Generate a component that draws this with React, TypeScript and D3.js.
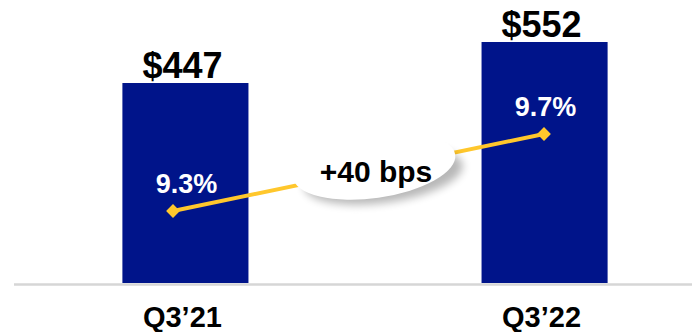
import React from "react";
import * as d3 from "d3";

const categories = ["Q3\u201921", "Q3\u201922"];
const revenue = [447, 552];
const revenueLabels = ["$447", "$552"];
const margin = [9.3, 9.7];
const marginLabels = ["9.3%", "9.7%"];
const changeLabel = "+40 bps";

const W = 692;
const H = 332;
const FONT = "'Liberation Sans', Arial, sans-serif";
const NAVY = "#00148A";
const GOLD = "#FFC72C";

export default function App() {
  const x = d3
    .scaleBand<string>()
    .domain(categories)
    .range([38, 692])
    .paddingInner(0.649)
    .paddingOuter(0.235);
  const y = d3.scaleLinear().domain([-65, 552]).range([283, 42]);
  const xLine = d3.scalePoint<string>().domain(categories).range([173, 544]);
  const yLine = d3.scaleLinear().domain([9.3, 9.7]).range([211, 134]);

  const pts: [number, number][] = categories.map((c, i) => [xLine(c)!, yLine(margin[i])]);
  const lineGen = d3.line();
  const diamond = d3.symbol().type(d3.symbolSquare).size(95)();

  return (
    <svg width={W} height={H} style={{ position: "absolute", left: 0, top: 0 }} fontFamily={FONT}>
      <defs>
        <filter id="blur" x="-30%" y="-60%" width="160%" height="220%">
          <feGaussianBlur stdDeviation="4" />
        </filter>
      </defs>
      <rect x={0} y={0} width={W} height={H} fill="#fff" />
      {categories.map((c, i) => (
        <rect key={c} x={x(c)} y={y(revenue[i])} width={x.bandwidth()} height={y(-65) - y(revenue[i])} fill={NAVY} />
      ))}
      <line x1={14} x2={692} y1={284.5} y2={284.5} stroke="#d6d6d6" strokeWidth={2.5} />
      {categories.map((c, i) => (
        <text
          key={"v" + c}
          x={x(c)! + x.bandwidth() / 2 - 3}
          y={y(revenue[i]) - 5}
          textAnchor="middle"
          fontWeight="bold"
          fontSize={36}
          fill="#000"
        >
          {revenueLabels[i]}
        </text>
      ))}
      {categories.map((c, i) => (
        <text
          key={"c" + c}
          x={x(c)! + x.bandwidth() / 2 - 3}
          y={327}
          textAnchor="middle"
          fontWeight="bold"
          fontSize={29}
          fill="#000"
        >
          {c}
        </text>
      ))}
      <path d={lineGen(pts)!} stroke={GOLD} strokeWidth={4} fill="none" />
      {pts.map((p, i) => (
        <path key={"m" + i} d={diamond!} transform={`translate(${p[0]},${p[1]}) rotate(45)`} fill={GOLD} />
      ))}
      {categories.map((c, i) => (
        <text
          key={"p" + c}
          x={x(c)! + x.bandwidth() / 2 + 1}
          y={yLine(margin[i]) - 18}
          textAnchor="middle"
          fontWeight="bold"
          fontSize={27}
          fill="#fff"
        >
          {marginLabels[i]}
        </text>
      ))}
      <g transform="translate(374,166) rotate(-8)">
        <ellipse cx={8} cy={11} rx={80} ry={27} fill="#000" opacity={0.28} filter="url(#blur)" />
        <ellipse cx={0} cy={0} rx={82} ry={32} fill="#fff" />
      </g>
      <text x={376} y={182} textAnchor="middle" fontWeight="bold" fontSize={30} fill="#000">
        {changeLabel}
      </text>
    </svg>
  );
}
